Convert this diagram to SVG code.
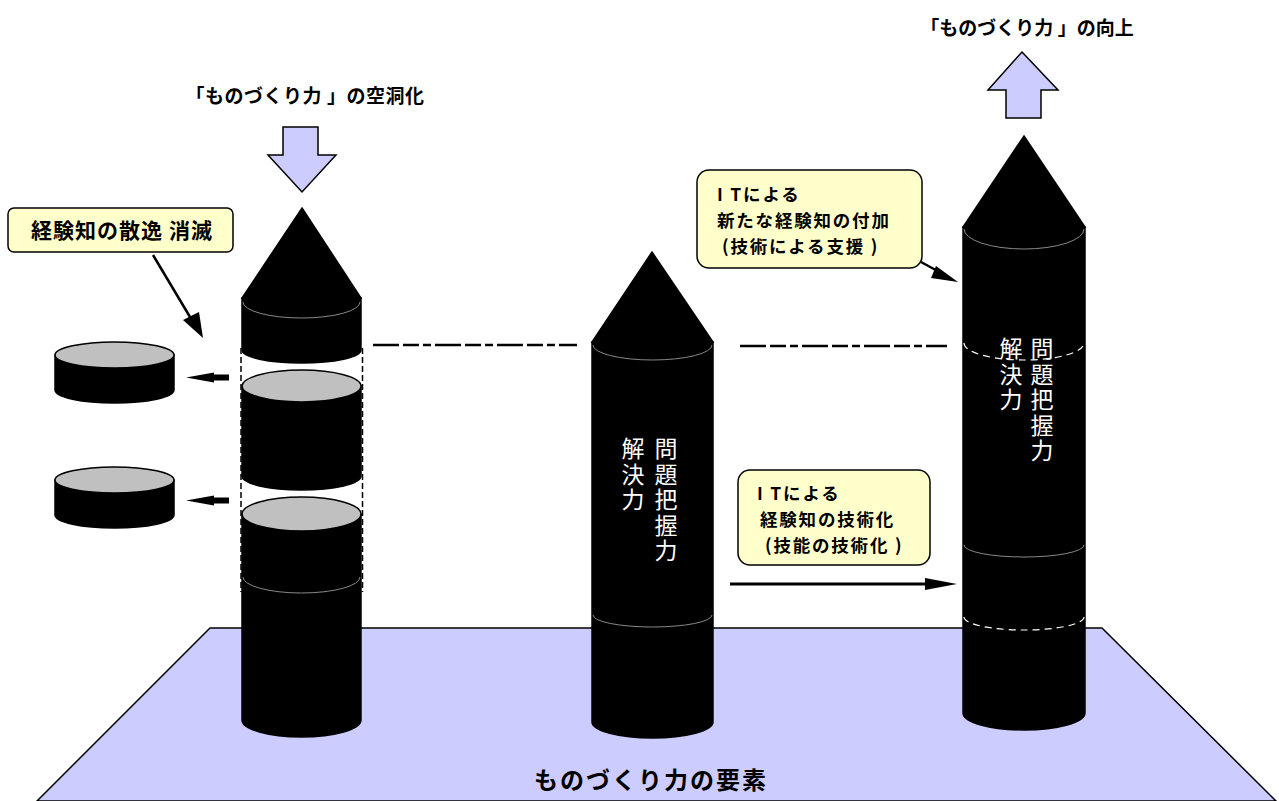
<svg xmlns="http://www.w3.org/2000/svg" width="1279" height="801" viewBox="0 0 1279 801">
  <style>
    .lbl { font-family: "Noto Sans CJK JP", "Liberation Sans", sans-serif; font-weight: 700; fill: #000; }
    .vtx { font-family: "Noto Sans CJK JP", "Liberation Sans", sans-serif; font-size: 23px; fill: #fff; writing-mode: vertical-rl; text-orientation: upright; letter-spacing: 2.5px; }
    .body { fill: #000; stroke: #000; stroke-width: 1.5; }
    .seam { fill: none; stroke: #888; stroke-width: 1; }
    .seam-w { fill: none; stroke: #fff; stroke-width: 1.2; stroke-dasharray: 7 5; }
    .cap { fill: #c0c0c0; stroke: #000; stroke-width: 1.5; }
    .box { fill: #ffffcc; stroke: #000; stroke-width: 1.5; }
    .bigarrow { fill: #ccccff; stroke: #000; stroke-width: 1.5; }
    .guide { fill: none; stroke: #000; stroke-width: 2.5; stroke-dasharray: 26 4 16 4 8 4; }
    .vguide { fill: none; stroke: #000; stroke-width: 1.5; stroke-dasharray: 6 3; }
  </style>

  <!-- floor plane -->
  <g id="floor">
    <polygon points="210,628 1102,628 1276,801 37,801" fill="#ccccff" stroke="#000" stroke-width="1.5"/>
    <text class="lbl" x="651" y="789" font-size="24" text-anchor="middle" letter-spacing="2">ものづくり力の要素</text>
  </g>

  <!-- left tower: pieces drop out -->
  <g id="tower-left">
    <polygon class="body" points="302,208 361,298 242,298"/>
    <path class="body" d="M242,298 L242,350 A59.5,13 0 0 0 361,350 L361,298 Z"/>
    <path class="seam" d="M243,302 A58.5,16 0 0 0 360,302"/>
    <path class="body" d="M242,386 L242,476 A59.5,14 0 0 0 361,476 L361,386 Z"/>
    <ellipse class="cap" cx="301.5" cy="386" rx="59.5" ry="16"/>
    <path class="body" d="M242,514 L242,720 A59.5,17 0 0 0 361,720 L361,514 Z"/>
    <ellipse class="cap" cx="301.5" cy="514" rx="59.5" ry="17"/>
    <path class="seam" d="M243,577 A58.5,16 0 0 0 360,577"/>
    <line class="vguide" x1="241" y1="348" x2="241" y2="592"/>
    <line class="vguide" x1="362.5" y1="348" x2="362.5" y2="592"/>
  </g>

  <!-- detached pieces -->
  <g id="disc-1">
    <path class="body" d="M55,355 L55,390 A59.5,13 0 0 0 174,390 L174,355 Z"/>
    <ellipse class="cap" cx="114.5" cy="355" rx="59.5" ry="13"/>
  </g>
  <g id="disc-2">
    <path class="body" d="M55,480 L55,515 A59.5,13 0 0 0 174,515 L174,480 Z"/>
    <ellipse class="cap" cx="114.5" cy="480" rx="59.5" ry="13"/>
  </g>

  <!-- middle tower -->
  <g id="tower-mid">
    <polygon class="body" points="652,252 713,342 592,342"/>
    <path class="body" d="M592,342 L592,722 A60.5,16 0 0 0 713,722 L713,342 Z"/>
    <path class="seam" d="M593,345 A59.5,15 0 0 0 712,345"/>
    <path class="seam" d="M593,615 A59.5,12 0 0 0 712,615"/>
    <text class="vtx" x="666" y="437">問題把握力</text>
    <text class="vtx" x="633" y="437">解決力</text>
  </g>

  <!-- right tower -->
  <g id="tower-right">
    <polygon class="body" points="1024,136 1085,227 963,227"/>
    <path class="body" d="M963,227 L963,713 A61,17 0 0 0 1085,713 L1085,227 Z"/>
    <path class="seam" d="M964,229 A60,20 0 0 0 1084,229"/>
    <path class="seam-w" d="M964,343 A60,17 0 0 0 1084,343"/>
    <path class="seam" d="M964,545 A60,12 0 0 0 1084,545"/>
    <path class="seam-w" d="M964,617 A60,13 0 0 0 1084,617"/>
    <text class="vtx" x="1042" y="337">問題把握力</text>
    <text class="vtx" x="1011" y="337">解決力</text>
  </g>

  <!-- headings with block arrows -->
  <g id="heading-hollow">
    <text class="lbl" x="305" y="103" font-size="19" text-anchor="middle" letter-spacing="0.5">「ものづくり力 」の空洞化</text>
    <polygon class="bigarrow" points="283,127 318,127 318,155 336,155 302,192 268,155 283,155"/>
  </g>
  <g id="heading-improve">
    <text class="lbl" x="1027" y="35" font-size="19" text-anchor="middle">「ものづくり力 」の向上</text>
    <polygon class="bigarrow" points="1022,52 1058,90 1041,90 1041,118 1006,118 1006,90 988,90"/>
  </g>

  <!-- callouts -->
  <g id="callout-loss">
    <rect class="box" x="8" y="208" width="225" height="44" rx="6"/>
    <text class="lbl" x="122" y="238" font-size="21" text-anchor="middle" letter-spacing="1">経験知の散逸 消滅</text>
  </g>
  <g id="callout-add">
    <rect class="box" x="697" y="170" width="225" height="98" rx="12"/>
    <text class="lbl" font-size="17.5" letter-spacing="1.8">
      <tspan x="717" y="201">I Tによる</tspan>
      <tspan x="717" y="227">新たな経験知の付加</tspan>
      <tspan x="722" y="253">(技術による支援 )</tspan>
    </text>
  </g>
  <g id="callout-tech">
    <rect class="box" x="738" y="470" width="192" height="95" rx="12"/>
    <text class="lbl" font-size="17.5" letter-spacing="1.8">
      <tspan x="757" y="500">I Tによる</tspan>
      <tspan x="760" y="526">経験知の技術化</tspan>
      <tspan x="765" y="552">(技能の技術化 )</tspan>
    </text>
  </g>

  <!-- connectors -->
  <g id="connectors">
    <line class="guide" x1="373" y1="345" x2="577" y2="345"/>
    <line class="guide" x1="740" y1="346" x2="947" y2="346"/>
    <!-- loss pointer -->
    <line x1="153" y1="255" x2="193" y2="322" stroke="#000" stroke-width="2.5"/>
    <polygon points="183,320 199,312 203,338" fill="#000"/>
    <!-- add pointer -->
    <line x1="921" y1="262" x2="943" y2="274" stroke="#000" stroke-width="2.5"/>
    <polygon points="936,266 958,282 931,278" fill="#000"/>
    <!-- pieces pulled out -->
    <polygon points="229,374.5 214,374.5 214,372.5 186,377.5 214,382.5 214,380.5 229,380.5" fill="#000"/>
    <polygon points="229,497.5 214,497.5 214,495.5 186,500.5 214,505.5 214,503.5 229,503.5" fill="#000"/>
    <!-- technology transfer -->
    <line x1="730" y1="584" x2="930" y2="584" stroke="#000" stroke-width="3"/>
    <polygon points="925,578 957,584 925,590" fill="#000"/>
  </g>
</svg>
